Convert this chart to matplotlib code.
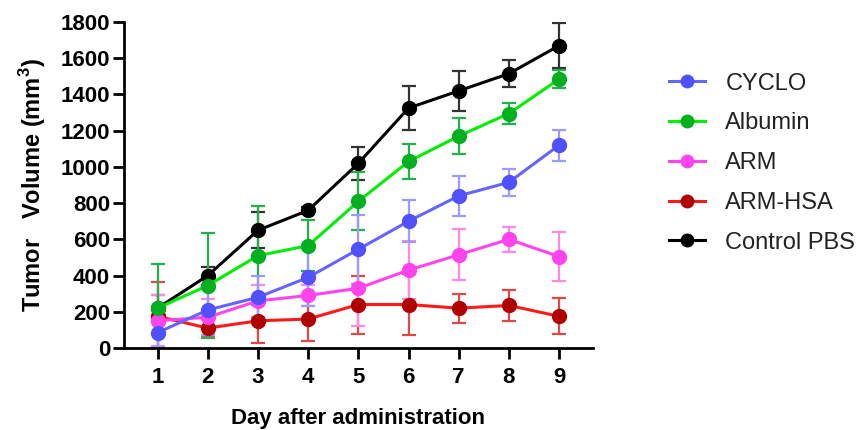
import numpy as np
import matplotlib.pyplot as plt
from matplotlib.lines import Line2D

plt.rcParams['font.family'] = ['Liberation Sans', 'DejaVu Sans']

days = [1, 2, 3, 4, 5, 6, 7, 8, 9]

cyclo = [85, 210, 280, 390, 545, 700, 840, 915, 1120]
cyclo_err = [80, 140, 115, 160, 190, 115, 110, 75, 85]

albumin = [220, 345, 510, 565, 810, 1030, 1170, 1295, 1485]
albumin_err = [245, 290, 275, 140, 160, 95, 100, 60, 50]

arm = [150, 170, 260, 290, 330, 430, 515, 600, 505]
arm_err = [140, 100, 90, 60, 210, 160, 140, 70, 135]

arm_hsa = [175, 110, 150, 160, 240, 240, 220, 235, 175]
arm_hsa_err = [190, 50, 120, 120, 160, 170, 80, 85, 100]

control = [220, 400, 650, 760, 1020, 1325, 1420, 1515, 1670]
control_err = [70, 50, 100, 20, 90, 120, 110, 75, 125]

labels = ['CYCLO', 'Albumin', 'ARM', 'ARM-HSA', 'Control PBS']

fig = plt.figure(figsize=(8.64, 4.30), dpi=100)
ax = fig.add_axes([0.1435, 0.1907, 0.5425, 0.758])

# (values, errors, line colour, marker colour, error colour)
series = {
    'Control PBS': (control, control_err, '#000000', '#000000', '#333333'),
    'ARM-HSA': (arm_hsa, arm_hsa_err, '#ff1a1a', '#b00000', '#e04848'),
    'ARM': (arm, arm_err, '#ff44ee', '#ff44ee', '#ff88ee'),
    'Albumin': (albumin, albumin_err, '#00ee00', '#00b020', '#22b04a'),
    'CYCLO': (cyclo, cyclo_err, '#6464ff', '#5050ff', '#9a9aff'),
}

handles = {}
for name, (vals, errs, lc, mc, ec) in series.items():
    ax.errorbar(days, vals, yerr=errs, color=lc, ecolor=ec, elinewidth=1.6,
                capsize=5, capthick=1.6, lw=2.2, marker='o', ms=10,
                mfc=mc, mec=mc)
    handles[name] = Line2D([], [], color=lc, lw=2.2, marker='o', ms=9,
                           mfc=mc, mec=mc)

ax.set_xlim(0.33, 9.67)
ax.set_ylim(0, 1800)
ax.set_xticks(days)
ax.set_yticks(np.arange(0, 1801, 200))

for s in ['top', 'right']:
    ax.spines[s].set_visible(False)
for s in ['left', 'bottom']:
    ax.spines[s].set_linewidth(2)
ax.tick_params(width=2, length=8, direction='out', labelsize=16, pad=2)
ax.tick_params(axis='x', pad=6)
for lab in ax.get_xticklabels() + ax.get_yticklabels():
    lab.set_fontweight('bold')

ax.set_xlabel('Day after administration', fontsize=16, fontweight='bold', labelpad=14)
ax.set_ylabel('Tumor   Volume (mm$^\\mathregular{3}$)', fontsize=17, fontweight='bold', labelpad=9)

leg = fig.legend([handles[l] for l in labels], labels, loc='upper left',
                 bbox_to_anchor=(0.774, 0.831), frameon=False, fontsize=17,
                 handlelength=1.55, handletextpad=0.85, labelspacing=0.75,
                 borderpad=0, borderaxespad=0)
for t in leg.get_texts():
    t.set_color('#222222')

fig.savefig('out.png', dpi=100)
